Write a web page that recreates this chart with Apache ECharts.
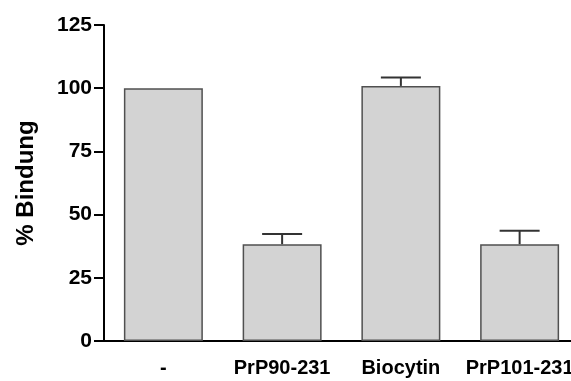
<!DOCTYPE html>
<html>
<head>
<meta charset="utf-8">
<script src="https://cdn.jsdelivr.net/npm/echarts@6/dist/echarts.min.js"></script>
<style>
html,body{margin:0;padding:0;background:#fff;}
#chart{width:571px;height:381px;}
</style>
</head>
<body>
<div id="chart"></div>
<script>
const categories = ['-', 'PrP90-231', 'Biocytin', 'PrP101-231'];
const values = [100, 38.3, 100.9, 38.3];
const errors = [0, 4.0, 3.3, 5.3];
const yTicks = [0, 25, 50, 75, 100, 125];

const FONT = 'Liberation Sans';
const chart = echarts.init(document.getElementById('chart'), null, {renderer: 'canvas'});

const errData = values.map((v, i) => [i, v, v + errors[i]]);

chart.setOption({
  animation: false,
  grid: {left: 104, top: 25, bottom: 40, width: 475, containLabel: false, outerBoundsMode: 'none'},
  xAxis: {
    type: 'category',
    data: categories,
    axisLine: {lineStyle: {color: '#000', width: 2}},
    axisTick: {show: false},
    axisLabel: {
      color: '#000', fontFamily: FONT, fontWeight: 'bold', fontSize: 20,
      margin: 17, interval: 0, hideOverlap: false
    }
  },
  yAxis: {
    type: 'value',
    min: yTicks[0],
    max: yTicks[yTicks.length - 1],
    interval: 25,
    name: '% Bindung',
    nameLocation: 'middle',
    nameGap: 66,
    nameTextStyle: {color: '#000', fontFamily: FONT, fontWeight: 'bold', fontSize: 24},
    axisLine: {show: true, lineStyle: {color: '#000', width: 2}},
    axisTick: {show: true, length: 10, lineStyle: {color: '#000', width: 2}},
    axisLabel: {color: '#000', fontFamily: FONT, fontWeight: 'bold', fontSize: 21, margin: 12},
    splitLine: {show: false}
  },
  series: [
    {
      type: 'bar',
      data: values,
      barWidth: '66.5%',
      itemStyle: {color: '#d3d3d3', borderColor: '#505050', borderWidth: 1.5},
      z: 2
    },
    {
      type: 'custom',
      data: errData,
      z: 3,
      renderItem: function (params, api) {
        const i = api.value(0);
        const v = api.value(1);
        const hi = api.value(2);
        if (hi - v <= 0) return null;
        const p0 = api.coord([i, v]);
        const p1 = api.coord([i, hi]);
        const half = 20;
        const style = {stroke: '#333', lineWidth: 2, fill: null};
        return {
          type: 'group',
          children: [
            {type: 'line', shape: {x1: p0[0], y1: p0[1], x2: p1[0], y2: p1[1]}, style: style},
            {type: 'line', shape: {x1: p1[0] - half, y1: p1[1], x2: p1[0] + half, y2: p1[1]}, style: style}
          ]
        };
      }
    }
  ]
});
</script>
</body>
</html>
